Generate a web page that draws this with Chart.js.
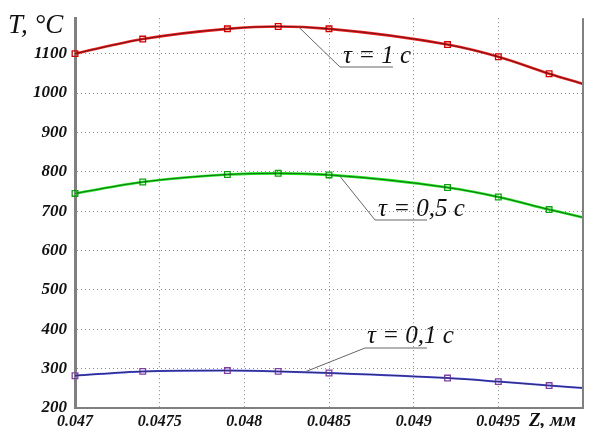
<!DOCTYPE html>
<html>

<head>
    <meta charset="UTF-8">
    <title>T(Z)</title>
    <script src="https://cdn.jsdelivr.net/npm/chart.js@4.4.0/dist/chart.umd.min.js"></script>
    <style>
        body { margin: 0; background: #ffffff; }
    </style>
</head>

<body>
    <canvas id="chart" width="590" height="428"></canvas>
    <script>
        // Z, mm (last point is the curve end at the right border, no marker there)
        const zValues = [0.047, 0.0474, 0.0479, 0.0482, 0.0485, 0.0492, 0.0495, 0.0498, 0.05];
        // T, °C for each moment
        const tempTau1 = [1100, 1137, 1163, 1169, 1163, 1123, 1092, 1049, 1023];
        const tempTau05 = [745, 774, 793, 796, 792, 760, 736, 704, 684];
        const tempTau01 = [282, 293, 295, 293, 289, 276, 267, 257, 251];

        const xTickValues = [0.047, 0.0475, 0.048, 0.0485, 0.049, 0.0495, 0.05];
        const xTickLabels = ['0.047', '0.0475', '0.048', '0.0485', '0.049', '0.0495', ''];
        const yTickValues = [200, 300, 400, 500, 600, 700, 800, 900, 1000, 1100];

        const serif = '"Liberation Serif", "DejaVu Serif", serif';

        function pts(ys) {
            return zValues.map((z, i) => ({ x: z, y: ys[i] }));
        }
        const markerRadius = zValues.map((z, i) => i < zValues.length - 1 ? 4 : 0);

        function curve(ys, color, markerColor, width) {
            return {
                data: pts(ys),
                borderColor: color,
                borderWidth: width,
                pointStyle: 'rect',
                pointRadius: markerRadius,
                pointBorderColor: markerColor,
                pointBorderWidth: 1.3,
                pointBackgroundColor: 'rgba(255,255,255,0)',
                cubicInterpolationMode: 'monotone',
                clip: false,
                order: 2
            };
        }
        function core(ys) {
            return {
                data: pts(ys),
                borderColor: '#1a1a1a',
                borderWidth: 0.6,
                pointRadius: 0,
                cubicInterpolationMode: 'monotone',
                order: 1
            };
        }

        // leader lines and labels: [z, T on curve, elbow x, elbow y, underline end x, text x, text baseline, text]
        const callouts = [
            [0.04832, 1168, 340, 67, 393, 343, 63, 'τ = 1 с'],
            [0.04856, 791, 375, 220, 427, 378, 216, 'τ = 0,5 с'],
            [0.04836, 292, 365, 348, 427, 367, 343, 'τ = 0,1 с']
        ];

        const extras = {
            id: 'extras',
            afterDraw(chart) {
                const ctx = chart.ctx;
                const a = chart.chartArea;
                const xs = chart.scales.x, ys = chart.scales.y;
                ctx.save();
                // right border
                ctx.strokeStyle = '#808080';
                ctx.lineWidth = 2;
                ctx.beginPath();
                ctx.moveTo(a.right, a.top);
                ctx.lineTo(a.right, a.bottom);
                ctx.stroke();

                callouts.forEach(c => {
                    ctx.strokeStyle = '#666666';
                    ctx.lineWidth = 1;
                    ctx.beginPath();
                    ctx.moveTo(xs.getPixelForValue(c[0]), ys.getPixelForValue(c[1]));
                    ctx.lineTo(c[2], c[3]);
                    ctx.lineTo(c[4], c[3]);
                    ctx.stroke();
                    ctx.fillStyle = '#111111';
                    ctx.font = 'italic 25px ' + serif;
                    ctx.textAlign = 'left';
                    ctx.textBaseline = 'alphabetic';
                    ctx.fillText(c[7], c[5], c[6]);
                });

                ctx.fillStyle = '#111111';
                ctx.font = 'italic 27px ' + serif;
                ctx.fillText('T, °C', 8, 33);
                ctx.font = 'bold italic 19px ' + serif;
                ctx.fillText('Z, мм', 529, 426);
                ctx.restore();
            }
        };

        new Chart(document.getElementById('chart').getContext('2d'), {
            type: 'line',
            data: {
                datasets: [
                    curve(tempTau1, '#f01818', '#d00000', 2.6),
                    core(tempTau1),
                    curve(tempTau05, '#18e818', '#10a010', 2.6),
                    core(tempTau05),
                    curve(tempTau01, '#4848e8', '#8040a0', 2),
                    core(tempTau01)
                ]
            },
            options: {
                responsive: false,
                animation: false,
                layout: { padding: { top: 16, right: 7, left: 0, bottom: 0 } },
                plugins: {
                    legend: { display: false },
                    tooltip: { enabled: false }
                },
                scales: {
                    x: {
                        type: 'linear',
                        min: 0.047,
                        max: 0.05,
                        afterBuildTicks: s => { s.ticks = xTickValues.map(v => ({ value: v })); },
                        afterFit: s => { s.height = 20; },
                        ticks: {
                            callback: (v, i) => xTickLabels[i],
                            color: '#111111',
                            font: { family: serif, size: 16, style: 'italic', weight: 'bold' },
                            padding: 4,
                            maxRotation: 0,
                            autoSkip: false
                        },
                        grid: { color: '#8a8a8a', lineWidth: 1, drawTicks: false },
                        border: { display: true, color: '#808080', width: 2, dash: [1, 3] }
                    },
                    y: {
                        min: 200,
                        max: 1190,
                        afterBuildTicks: s => { s.ticks = yTickValues.map(v => ({ value: v })); },
                        afterFit: s => { s.width = 75; },
                        ticks: {
                            callback: v => String(v),
                            color: '#111111',
                            font: { family: serif, size: 17, style: 'italic', weight: 'bold' },
                            padding: 8
                        },
                        grid: { color: '#8a8a8a', lineWidth: 1, drawTicks: false },
                        border: { display: true, color: '#808080', width: 3, dash: [1, 3] }
                    }
                }
            },
            plugins: [extras]
        });
    </script>
</body>

</html>
